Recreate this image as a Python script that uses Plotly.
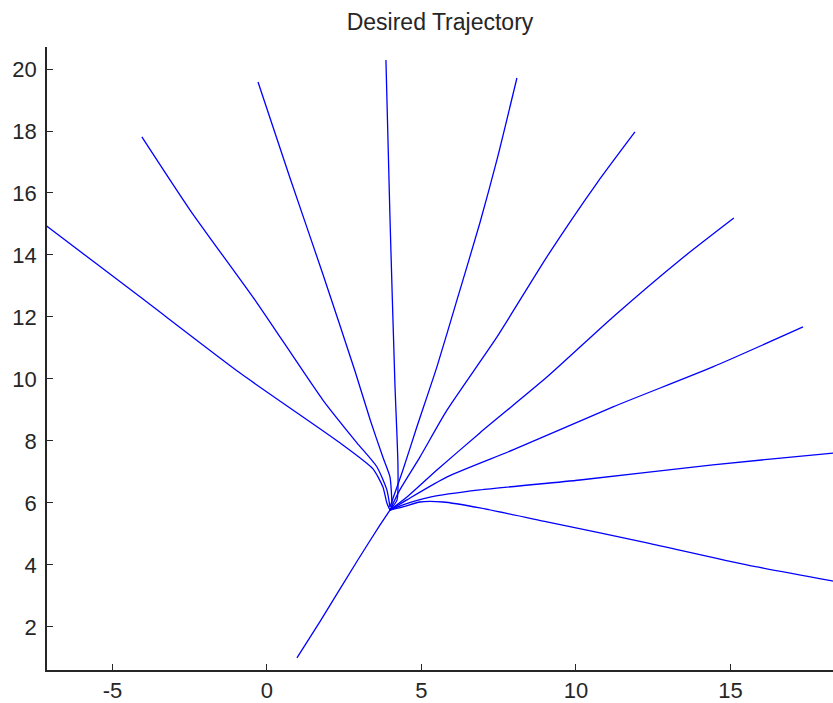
import plotly.graph_objects as go

# Common stem: from the start point up to where the paths fan out
stem_x = [0.97, 1.72, 2.94, 3.66, 3.98]
stem_y = [1.00, 2.18, 4.16, 5.29, 5.77]

# Individual branches, listed from the hub outwards
branch_a_x = [3.98, 3.88, 3.75, 3.43, 2.36, -0.87, -4.11, -7.09, -7.30]
branch_a_y = [5.77, 6.00, 6.52, 7.10, 7.94, 10.19, 12.65, 14.90, 15.05]

branch_b_x = [3.98, 3.88, 3.56, 2.91, 1.81, -0.32, -2.49, -4.05]
branch_b_y = [5.87, 6.42, 7.16, 7.94, 9.32, 12.45, 15.45, 17.81]

branch_c_x = [4.05, 3.98, 3.75, 3.35, 2.85, 1.81, 0.74, -0.29]
branch_c_y = [5.87, 6.84, 7.48, 8.65, 10.25, 13.38, 16.50, 19.58]

branch_d_x = [3.98, 4.21, 4.24, 4.14, 3.98, 3.85]
branch_d_y = [5.77, 6.10, 7.16, 9.87, 15.23, 20.29]

branch_e_x = [3.98, 4.40, 4.85, 5.50, 6.15, 6.89, 7.44, 8.09]
branch_e_y = [5.87, 7.06, 8.45, 10.39, 12.55, 15.03, 17.06, 19.71]

branch_f_x = [3.98, 4.30, 4.95, 5.83, 7.44, 9.06, 10.68, 11.91]
branch_f_y = [5.77, 6.42, 7.48, 9.00, 11.35, 13.94, 16.32, 17.97]

branch_g_x = [3.98, 4.53, 5.50, 6.89, 9.06, 11.20, 13.37, 15.11]
branch_g_y = [5.77, 6.19, 7.06, 8.26, 10.06, 12.00, 13.84, 15.19]

branch_h_x = [3.98, 4.53, 5.83, 7.96, 11.20, 14.43, 17.35]
branch_h_y = [5.77, 6.10, 6.84, 7.71, 9.10, 10.39, 11.68]

branch_i_x = [3.98, 4.40, 5.28, 6.89, 10.13, 14.43, 18.32, 18.60]
branch_i_y = [5.77, 5.94, 6.19, 6.42, 6.74, 7.23, 7.61, 7.64]

branch_j_x = [3.98, 4.40, 4.95, 5.70, 6.89, 9.06, 12.30, 15.53, 18.32, 18.60]
branch_j_y = [5.77, 5.87, 6.03, 6.03, 5.84, 5.39, 4.71, 4.00, 3.48, 3.43]

branches = [
    (branch_a_x, branch_a_y), (branch_b_x, branch_b_y), (branch_c_x, branch_c_y),
    (branch_d_x, branch_d_y), (branch_e_x, branch_e_y), (branch_f_x, branch_f_y),
    (branch_g_x, branch_g_y), (branch_h_x, branch_h_y), (branch_i_x, branch_i_y),
    (branch_j_x, branch_j_y),
]

x_ticks = [-5, 0, 5, 10, 15]
x_tick_labels = ["-5", "0", "5", "10", "15"]
y_ticks = [2, 4, 6, 8, 10, 12, 14, 16, 18, 20]
y_tick_labels = ["2", "4", "6", "8", "10", "12", "14", "16", "18", "20"]

line_style = dict(color="#0000ff", width=1.3, shape="spline", smoothing=0.6)

fig = go.Figure()
fig.add_trace(go.Scatter(x=stem_x, y=stem_y, mode="lines", line=line_style,
                         showlegend=False, hoverinfo="skip"))
for bx, by in branches:
    fig.add_trace(go.Scatter(x=bx, y=by, mode="lines", line=line_style,
                             showlegend=False, hoverinfo="skip"))

text_font = dict(family="Liberation Sans, Arial, sans-serif", size=22, color="#262626")

axis_common = dict(
    showgrid=False, zeroline=False, showline=True, linecolor="#262626",
    linewidth=1.5, mirror=False, ticks="inside", ticklen=6, tickwidth=1.2,
    tickcolor="#262626", tickfont=text_font,
)

fig.update_layout(
    width=833, height=703,
    margin=dict(l=47, r=0, t=47, b=33),
    paper_bgcolor="white", plot_bgcolor="white",
    title=dict(text="Desired Trajectory", x=0.5, xref="paper", xanchor="center",
               y=1 - 22 / 703, yref="container", yanchor="middle",
               font=dict(family="Liberation Sans, Arial, sans-serif", size=23,
                         color="#262626")),
    xaxis=dict(range=[-7.12, 18.32], tickvals=x_ticks, ticktext=x_tick_labels,
               **axis_common),
    yaxis=dict(range=[0.61, 20.71], tickvals=y_ticks, ticktext=y_tick_labels,
               ticklabelstandoff=4, **axis_common),
)

fig.write_html("out.html")
